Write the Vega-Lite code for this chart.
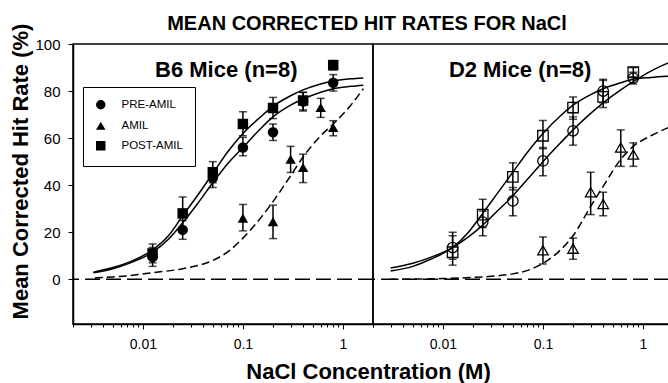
{
  "$schema": "https://vega.github.io/schema/vega-lite/v6.json",
  "padding": {"left": 8, "top": 13, "right": 0, "bottom": 0},
  "spacing": 0,
  "bounds": "flush",
  "config": {
    "font": "Liberation Sans",
    "view": {"stroke": "black", "strokeWidth": 1.5},
    "axis": {"grid": false, "domainColor": "black", "domainWidth": 1.5, "tickColor": "black", "tickWidth": 1, "labelColor": "black", "titleColor": "black", "labelFont": "Liberation Sans", "titleFont": "Liberation Sans"}
  },
  "resolve": {"scale": {"shape": "independent"}, "legend": {"shape": "independent"}},
  "datasets": {
    "points": [
      {"strain": "B6", "cond": "PRE-AMIL", "conc": 0.0125, "rate": 9.5, "lo": 5.5, "hi": 13.5},
      {"strain": "B6", "cond": "PRE-AMIL", "conc": 0.025, "rate": 21, "lo": 17, "hi": 25},
      {"strain": "B6", "cond": "PRE-AMIL", "conc": 0.05, "rate": 43, "lo": 39, "hi": 47},
      {"strain": "B6", "cond": "PRE-AMIL", "conc": 0.1, "rate": 56, "lo": 52.5, "hi": 60.3},
      {"strain": "B6", "cond": "PRE-AMIL", "conc": 0.2, "rate": 62.5, "lo": 59, "hi": 66},
      {"strain": "B6", "cond": "PRE-AMIL", "conc": 0.4, "rate": 75.5, "lo": 71.5, "hi": 79.5},
      {"strain": "B6", "cond": "PRE-AMIL", "conc": 0.8, "rate": 83.5, "lo": 80, "hi": 87},
      {"strain": "B6", "cond": "POST-AMIL", "conc": 0.0125, "rate": 11, "lo": 7, "hi": 15},
      {"strain": "B6", "cond": "POST-AMIL", "conc": 0.025, "rate": 28, "lo": 21, "hi": 35},
      {"strain": "B6", "cond": "POST-AMIL", "conc": 0.05, "rate": 45.5, "lo": 41, "hi": 50},
      {"strain": "B6", "cond": "POST-AMIL", "conc": 0.1, "rate": 66, "lo": 61, "hi": 71.2},
      {"strain": "B6", "cond": "POST-AMIL", "conc": 0.2, "rate": 72.8, "lo": 68.3, "hi": 77.3},
      {"strain": "B6", "cond": "POST-AMIL", "conc": 0.4, "rate": 76, "lo": 72, "hi": 79.4},
      {"strain": "B6", "cond": "POST-AMIL", "conc": 0.8, "rate": 91, "lo": 89, "hi": 93},
      {"strain": "B6", "cond": "AMIL", "conc": 0.1, "rate": 26, "lo": 20.6, "hi": 31.8},
      {"strain": "B6", "cond": "AMIL", "conc": 0.2, "rate": 24.5, "lo": 17.3, "hi": 31.5},
      {"strain": "B6", "cond": "AMIL", "conc": 0.3, "rate": 51, "lo": 45.4, "hi": 56.5},
      {"strain": "B6", "cond": "AMIL", "conc": 0.4, "rate": 47.5, "lo": 41.1, "hi": 53.2},
      {"strain": "B6", "cond": "AMIL", "conc": 0.6, "rate": 73, "lo": 68.8, "hi": 76.9},
      {"strain": "B6", "cond": "AMIL", "conc": 0.8, "rate": 64.5, "lo": 61, "hi": 67.4},
      {"strain": "D2", "cond": "PRE-AMIL", "conc": 0.0125, "rate": 13.5, "lo": 8.5, "hi": 18.5},
      {"strain": "D2", "cond": "PRE-AMIL", "conc": 0.025, "rate": 24.3, "lo": 18.5, "hi": 29},
      {"strain": "D2", "cond": "PRE-AMIL", "conc": 0.05, "rate": 33.3, "lo": 27, "hi": 39},
      {"strain": "D2", "cond": "PRE-AMIL", "conc": 0.1, "rate": 50.3, "lo": 44, "hi": 56},
      {"strain": "D2", "cond": "PRE-AMIL", "conc": 0.2, "rate": 63.1, "lo": 57, "hi": 69},
      {"strain": "D2", "cond": "PRE-AMIL", "conc": 0.4, "rate": 80, "lo": 75, "hi": 85},
      {"strain": "D2", "cond": "PRE-AMIL", "conc": 0.8, "rate": 85.5, "lo": 83, "hi": 88},
      {"strain": "D2", "cond": "POST-AMIL", "conc": 0.0125, "rate": 11.5, "lo": 6, "hi": 20},
      {"strain": "D2", "cond": "POST-AMIL", "conc": 0.025, "rate": 27.5, "lo": 22, "hi": 34},
      {"strain": "D2", "cond": "POST-AMIL", "conc": 0.05, "rate": 43.5, "lo": 38, "hi": 49.5},
      {"strain": "D2", "cond": "POST-AMIL", "conc": 0.1, "rate": 61, "lo": 55.5, "hi": 67.5},
      {"strain": "D2", "cond": "POST-AMIL", "conc": 0.2, "rate": 73, "lo": 68, "hi": 77.5},
      {"strain": "D2", "cond": "POST-AMIL", "conc": 0.4, "rate": 77.5, "lo": 73, "hi": 84.5},
      {"strain": "D2", "cond": "POST-AMIL", "conc": 0.8, "rate": 88, "lo": 86, "hi": 90},
      {"strain": "D2", "cond": "AMIL", "conc": 0.1, "rate": 12.3, "lo": 6.5, "hi": 18},
      {"strain": "D2", "cond": "AMIL", "conc": 0.2, "rate": 13, "lo": 8.5, "hi": 17.5},
      {"strain": "D2", "cond": "AMIL", "conc": 0.3, "rate": 37, "lo": 27.5, "hi": 45.5},
      {"strain": "D2", "cond": "AMIL", "conc": 0.4, "rate": 32, "lo": 27, "hi": 37},
      {"strain": "D2", "cond": "AMIL", "conc": 0.6, "rate": 56, "lo": 48, "hi": 63.5},
      {"strain": "D2", "cond": "AMIL", "conc": 0.8, "rate": 53, "lo": 48, "hi": 58}
    ],
    "curves": [
      {"strain": "B6", "cond": "POST-AMIL", "conc": 0.0032, "rate": 3},
      {"strain": "B6", "cond": "POST-AMIL", "conc": 0.005, "rate": 5},
      {"strain": "B6", "cond": "POST-AMIL", "conc": 0.0075, "rate": 7.5},
      {"strain": "B6", "cond": "POST-AMIL", "conc": 0.0125, "rate": 12.5},
      {"strain": "B6", "cond": "POST-AMIL", "conc": 0.018, "rate": 18.5},
      {"strain": "B6", "cond": "POST-AMIL", "conc": 0.025, "rate": 27},
      {"strain": "B6", "cond": "POST-AMIL", "conc": 0.035, "rate": 35.5},
      {"strain": "B6", "cond": "POST-AMIL", "conc": 0.05, "rate": 45},
      {"strain": "B6", "cond": "POST-AMIL", "conc": 0.07, "rate": 54},
      {"strain": "B6", "cond": "POST-AMIL", "conc": 0.1, "rate": 62},
      {"strain": "B6", "cond": "POST-AMIL", "conc": 0.15, "rate": 69},
      {"strain": "B6", "cond": "POST-AMIL", "conc": 0.2, "rate": 73.5},
      {"strain": "B6", "cond": "POST-AMIL", "conc": 0.3, "rate": 78},
      {"strain": "B6", "cond": "POST-AMIL", "conc": 0.4, "rate": 80.5},
      {"strain": "B6", "cond": "POST-AMIL", "conc": 0.6, "rate": 83},
      {"strain": "B6", "cond": "POST-AMIL", "conc": 0.8, "rate": 84.3},
      {"strain": "B6", "cond": "POST-AMIL", "conc": 1.2, "rate": 85.2},
      {"strain": "B6", "cond": "POST-AMIL", "conc": 1.6, "rate": 85.6},
      {"strain": "B6", "cond": "PRE-AMIL", "conc": 0.0032, "rate": 2.8},
      {"strain": "B6", "cond": "PRE-AMIL", "conc": 0.005, "rate": 4.5},
      {"strain": "B6", "cond": "PRE-AMIL", "conc": 0.0075, "rate": 7},
      {"strain": "B6", "cond": "PRE-AMIL", "conc": 0.0125, "rate": 11.5},
      {"strain": "B6", "cond": "PRE-AMIL", "conc": 0.018, "rate": 17},
      {"strain": "B6", "cond": "PRE-AMIL", "conc": 0.025, "rate": 24},
      {"strain": "B6", "cond": "PRE-AMIL", "conc": 0.035, "rate": 32},
      {"strain": "B6", "cond": "PRE-AMIL", "conc": 0.05, "rate": 41},
      {"strain": "B6", "cond": "PRE-AMIL", "conc": 0.07, "rate": 49},
      {"strain": "B6", "cond": "PRE-AMIL", "conc": 0.1, "rate": 56},
      {"strain": "B6", "cond": "PRE-AMIL", "conc": 0.15, "rate": 64},
      {"strain": "B6", "cond": "PRE-AMIL", "conc": 0.2, "rate": 69},
      {"strain": "B6", "cond": "PRE-AMIL", "conc": 0.3, "rate": 74},
      {"strain": "B6", "cond": "PRE-AMIL", "conc": 0.4, "rate": 76.6},
      {"strain": "B6", "cond": "PRE-AMIL", "conc": 0.6, "rate": 79.5},
      {"strain": "B6", "cond": "PRE-AMIL", "conc": 0.8, "rate": 81},
      {"strain": "B6", "cond": "PRE-AMIL", "conc": 1.2, "rate": 82},
      {"strain": "B6", "cond": "PRE-AMIL", "conc": 1.6, "rate": 82.5},
      {"strain": "B6", "cond": "AMIL", "conc": 0.0033, "rate": 0.6},
      {"strain": "B6", "cond": "AMIL", "conc": 0.005, "rate": 1},
      {"strain": "B6", "cond": "AMIL", "conc": 0.0075, "rate": 1.6},
      {"strain": "B6", "cond": "AMIL", "conc": 0.0125, "rate": 2.8},
      {"strain": "B6", "cond": "AMIL", "conc": 0.025, "rate": 4.5},
      {"strain": "B6", "cond": "AMIL", "conc": 0.05, "rate": 8},
      {"strain": "B6", "cond": "AMIL", "conc": 0.075, "rate": 12.5},
      {"strain": "B6", "cond": "AMIL", "conc": 0.1, "rate": 17.5},
      {"strain": "B6", "cond": "AMIL", "conc": 0.15, "rate": 26},
      {"strain": "B6", "cond": "AMIL", "conc": 0.2, "rate": 33},
      {"strain": "B6", "cond": "AMIL", "conc": 0.3, "rate": 44},
      {"strain": "B6", "cond": "AMIL", "conc": 0.4, "rate": 52},
      {"strain": "B6", "cond": "AMIL", "conc": 0.6, "rate": 61},
      {"strain": "B6", "cond": "AMIL", "conc": 0.8, "rate": 66},
      {"strain": "B6", "cond": "AMIL", "conc": 1.2, "rate": 74},
      {"strain": "B6", "cond": "AMIL", "conc": 1.6, "rate": 81},
      {"strain": "D2", "cond": "POST-AMIL", "conc": 0.003, "rate": 3.5},
      {"strain": "D2", "cond": "POST-AMIL", "conc": 0.005, "rate": 5.5},
      {"strain": "D2", "cond": "POST-AMIL", "conc": 0.0075, "rate": 8.5},
      {"strain": "D2", "cond": "POST-AMIL", "conc": 0.0125, "rate": 13.5},
      {"strain": "D2", "cond": "POST-AMIL", "conc": 0.018, "rate": 20},
      {"strain": "D2", "cond": "POST-AMIL", "conc": 0.025, "rate": 28},
      {"strain": "D2", "cond": "POST-AMIL", "conc": 0.035, "rate": 36.5},
      {"strain": "D2", "cond": "POST-AMIL", "conc": 0.05, "rate": 45.5},
      {"strain": "D2", "cond": "POST-AMIL", "conc": 0.07, "rate": 54},
      {"strain": "D2", "cond": "POST-AMIL", "conc": 0.1, "rate": 62},
      {"strain": "D2", "cond": "POST-AMIL", "conc": 0.15, "rate": 69.5},
      {"strain": "D2", "cond": "POST-AMIL", "conc": 0.2, "rate": 74},
      {"strain": "D2", "cond": "POST-AMIL", "conc": 0.3, "rate": 78.5},
      {"strain": "D2", "cond": "POST-AMIL", "conc": 0.4, "rate": 81},
      {"strain": "D2", "cond": "POST-AMIL", "conc": 0.6, "rate": 83.5},
      {"strain": "D2", "cond": "POST-AMIL", "conc": 0.8, "rate": 85},
      {"strain": "D2", "cond": "POST-AMIL", "conc": 1.2, "rate": 85.8},
      {"strain": "D2", "cond": "POST-AMIL", "conc": 1.8, "rate": 86.3},
      {"strain": "D2", "cond": "PRE-AMIL", "conc": 0.003, "rate": 4.8},
      {"strain": "D2", "cond": "PRE-AMIL", "conc": 0.005, "rate": 6.8},
      {"strain": "D2", "cond": "PRE-AMIL", "conc": 0.0075, "rate": 9.3},
      {"strain": "D2", "cond": "PRE-AMIL", "conc": 0.0125, "rate": 13.5},
      {"strain": "D2", "cond": "PRE-AMIL", "conc": 0.018, "rate": 18},
      {"strain": "D2", "cond": "PRE-AMIL", "conc": 0.025, "rate": 23},
      {"strain": "D2", "cond": "PRE-AMIL", "conc": 0.035, "rate": 29},
      {"strain": "D2", "cond": "PRE-AMIL", "conc": 0.05, "rate": 35.5},
      {"strain": "D2", "cond": "PRE-AMIL", "conc": 0.07, "rate": 42.5},
      {"strain": "D2", "cond": "PRE-AMIL", "conc": 0.1, "rate": 50},
      {"strain": "D2", "cond": "PRE-AMIL", "conc": 0.15, "rate": 58},
      {"strain": "D2", "cond": "PRE-AMIL", "conc": 0.2, "rate": 63.5},
      {"strain": "D2", "cond": "PRE-AMIL", "conc": 0.3, "rate": 70.5},
      {"strain": "D2", "cond": "PRE-AMIL", "conc": 0.4, "rate": 75},
      {"strain": "D2", "cond": "PRE-AMIL", "conc": 0.6, "rate": 80.5},
      {"strain": "D2", "cond": "PRE-AMIL", "conc": 0.8, "rate": 84},
      {"strain": "D2", "cond": "PRE-AMIL", "conc": 1.2, "rate": 88.5},
      {"strain": "D2", "cond": "PRE-AMIL", "conc": 1.8, "rate": 92},
      {"strain": "D2", "cond": "AMIL", "conc": 0.003, "rate": 0},
      {"strain": "D2", "cond": "AMIL", "conc": 0.01, "rate": 0.3},
      {"strain": "D2", "cond": "AMIL", "conc": 0.02, "rate": 0.8},
      {"strain": "D2", "cond": "AMIL", "conc": 0.035, "rate": 1.5},
      {"strain": "D2", "cond": "AMIL", "conc": 0.05, "rate": 2.3},
      {"strain": "D2", "cond": "AMIL", "conc": 0.075, "rate": 4.2},
      {"strain": "D2", "cond": "AMIL", "conc": 0.1, "rate": 6.8},
      {"strain": "D2", "cond": "AMIL", "conc": 0.15, "rate": 12.5},
      {"strain": "D2", "cond": "AMIL", "conc": 0.2, "rate": 18.5},
      {"strain": "D2", "cond": "AMIL", "conc": 0.3, "rate": 31},
      {"strain": "D2", "cond": "AMIL", "conc": 0.4, "rate": 39.5},
      {"strain": "D2", "cond": "AMIL", "conc": 0.6, "rate": 51},
      {"strain": "D2", "cond": "AMIL", "conc": 0.8, "rate": 56.5},
      {"strain": "D2", "cond": "AMIL", "conc": 1.2, "rate": 61},
      {"strain": "D2", "cond": "AMIL", "conc": 1.8, "rate": 64.5}
    ],
    "labels": [
      {"strain": "B6", "conc": 0.0682, "rate": 89, "label": "B6 Mice (n=8)"},
      {"strain": "D2", "conc": 0.0591, "rate": 89, "label": "D2 Mice (n=8)"}
    ]
  },
  "hconcat": [
    {
      "width": 300,
      "height": 280,
      "title": {"text": "MEAN CORRECTED HIT RATES FOR NaCl", "anchor": "middle", "dx": 144, "fontSize": 20, "font": "Liberation Sans", "fontWeight": "bold", "color": "black", "offset": -11},
      "layer": [
        {
          "data": {"values": [{}]},
          "mark": {"type": "rule", "strokeDash": [15, 6], "strokeWidth": 1.5, "color": "black"},
          "encoding": {"y": {"datum": 0, "type": "quantitative", "title": "Mean Corrected Hit Rate (%)", "scale": {"domain": [-19, 100]}}}
        },
        {
          "data": {"name": "curves"},
          "transform": [{"filter": "datum.strain == 'B6' && datum.cond != 'AMIL'"}],
          "mark": {"type": "line", "interpolate": "monotone", "color": "black", "strokeWidth": 1.5},
          "encoding": {
            "x": {"field": "conc", "type": "quantitative", "title": "NaCl Concentration (M)", "scale": {"type": "log", "domain": [0.002, 2]}},
            "y": {"field": "rate", "type": "quantitative", "title": "Mean Corrected Hit Rate (%)", "scale": {"domain": [-19, 100]}},
            "detail": {"field": "cond"}
          }
        },
        {
          "data": {"name": "curves"},
          "transform": [{"filter": "datum.strain == 'B6' && datum.cond == 'AMIL'"}],
          "mark": {"type": "line", "interpolate": "monotone", "color": "black", "strokeWidth": 1.5, "strokeDash": [8, 4]},
          "encoding": {
            "x": {"field": "conc", "type": "quantitative", "title": "NaCl Concentration (M)", "scale": {"type": "log", "domain": [0.002, 2]}},
            "y": {"field": "rate", "type": "quantitative", "title": "Mean Corrected Hit Rate (%)", "scale": {"domain": [-19, 100]}}
          }
        },
        {
          "data": {"name": "points"},
          "transform": [{"filter": "datum.strain == 'B6'"}],
          "mark": {"type": "errorbar", "ticks": {"size": 8, "thickness": 1.5, "color": "black"}, "rule": {"strokeWidth": 1.5, "color": "black"}},
          "encoding": {
            "x": {"field": "conc", "type": "quantitative", "title": "NaCl Concentration (M)", "scale": {"type": "log", "domain": [0.002, 2]}},
            "y": {"field": "lo", "type": "quantitative", "title": "Mean Corrected Hit Rate (%)", "scale": {"domain": [-19, 100]}},
            "y2": {"field": "hi", "title": "Mean Corrected Hit Rate (%)"}
          }
        },
        {
          "data": {"name": "points"},
          "transform": [{"filter": "datum.strain == 'B6'"}],
          "mark": {"type": "point", "filled": true, "color": "black", "size": 110, "opacity": 1},
          "encoding": {
            "x": {"field": "conc", "type": "quantitative", "title": "NaCl Concentration (M)", "scale": {"type": "log", "domain": [0.002, 2]},
              "axis": {"titleFontSize": 22, "titleFontWeight": "bold", "titleX": 295, "titleY": 54, "titleAlign": "center", "titleBaseline": "alphabetic",
                "values": [0.002, 0.003, 0.004, 0.005, 0.006, 0.007, 0.008, 0.009, 0.01, 0.02, 0.03, 0.04, 0.05, 0.06, 0.07, 0.08, 0.09, 0.1, 0.2, 0.3, 0.4, 0.5, 0.6, 0.7, 0.8, 0.9, 1, 2],
                "labelExpr": "datum.value == 0.01 ? '0.01' : datum.value == 0.1 ? '0.1' : datum.value == 1 ? '1' : ''",
                "labelFontSize": 14, "labelPadding": 8, "labelFlush": false, "labelOverlap": false,
                "tickSize": {"condition": {"test": "datum.value == 0.01 || datum.value == 0.1 || datum.value == 1", "value": 5}, "value": 3}}},
            "y": {"field": "rate", "type": "quantitative", "title": "Mean Corrected Hit Rate (%)", "scale": {"domain": [-19, 100]},
              "axis": {"titleFontSize": 22, "titleFontWeight": "bold", "titleX": -53, "titleY": 127, "titleAngle": -90, "titleAlign": "center", "titleBaseline": "middle",
                "values": [0, 20, 40, 60, 80, 100], "labelFontSize": 15, "labelPadding": 8, "tickSize": 5}},
            "shape": {"field": "cond", "type": "nominal",
              "scale": {"domain": ["PRE-AMIL", "AMIL", "POST-AMIL"], "range": ["circle", "triangle-up", "square"]},
              "legend": {"orient": "none", "legendX": 10, "legendY": 43, "title": null, "strokeColor": "black", "fillColor": "white", "padding": 12,
                "labelFont": "Liberation Sans", "labelFontSize": 11.5, "labelColor": "black", "symbolFillColor": "black", "symbolStrokeColor": "black", "symbolSize": 90, "rowPadding": 5, "labelOffset": 15}}
          }
        },
        {
          "data": {"name": "labels"},
          "transform": [{"filter": "datum.strain == 'B6'"}],
          "mark": {"type": "text", "fontSize": 22, "fontWeight": "bold", "color": "black", "align": "center", "baseline": "middle"},
          "encoding": {
            "x": {"field": "conc", "type": "quantitative", "title": "NaCl Concentration (M)", "scale": {"type": "log", "domain": [0.002, 2]}},
            "y": {"field": "rate", "type": "quantitative", "title": "Mean Corrected Hit Rate (%)", "scale": {"domain": [-19, 100]}},
            "text": {"field": "label"}
          }
        }
      ]
    },
    {
      "width": 296,
      "height": 280,
      "layer": [
        {
          "data": {"values": [{}]},
          "mark": {"type": "rule", "strokeDash": [15, 6], "strokeWidth": 1.5, "color": "black"},
          "encoding": {"y": {"datum": 0, "type": "quantitative", "scale": {"domain": [-19, 100]}, "axis": null}}
        },
        {
          "data": {"name": "curves"},
          "transform": [{"filter": "datum.strain == 'D2' && datum.cond != 'AMIL'"}],
          "mark": {"type": "line", "interpolate": "monotone", "color": "black", "strokeWidth": 1.5},
          "encoding": {
            "x": {"field": "conc", "type": "quantitative", "title": null, "scale": {"type": "log", "domain": [0.002, 1.82]}},
            "y": {"field": "rate", "type": "quantitative", "scale": {"domain": [-19, 100]}, "axis": null},
            "detail": {"field": "cond"}
          }
        },
        {
          "data": {"name": "curves"},
          "transform": [{"filter": "datum.strain == 'D2' && datum.cond == 'AMIL'"}],
          "mark": {"type": "line", "interpolate": "monotone", "color": "black", "strokeWidth": 1.5, "strokeDash": [8, 4]},
          "encoding": {
            "x": {"field": "conc", "type": "quantitative", "title": null, "scale": {"type": "log", "domain": [0.002, 1.82]}},
            "y": {"field": "rate", "type": "quantitative", "scale": {"domain": [-19, 100]}, "axis": null}
          }
        },
        {
          "data": {"name": "points"},
          "transform": [{"filter": "datum.strain == 'D2'"}],
          "mark": {"type": "errorbar", "ticks": {"size": 8, "thickness": 1.5, "color": "black"}, "rule": {"strokeWidth": 1.5, "color": "black"}},
          "encoding": {
            "x": {"field": "conc", "type": "quantitative", "title": null, "scale": {"type": "log", "domain": [0.002, 1.82]}},
            "y": {"field": "lo", "type": "quantitative", "scale": {"domain": [-19, 100]}, "axis": null},
            "y2": {"field": "hi"}
          }
        },
        {
          "data": {"name": "points"},
          "transform": [{"filter": "datum.strain == 'D2'"}],
          "mark": {"type": "point", "filled": false, "color": "black", "strokeWidth": 1.3, "size": 110, "opacity": 1},
          "encoding": {
            "x": {"field": "conc", "type": "quantitative", "title": null, "scale": {"type": "log", "domain": [0.002, 1.82]},
              "axis": {
                "values": [0.002, 0.003, 0.004, 0.005, 0.006, 0.007, 0.008, 0.009, 0.01, 0.02, 0.03, 0.04, 0.05, 0.06, 0.07, 0.08, 0.09, 0.1, 0.2, 0.3, 0.4, 0.5, 0.6, 0.7, 0.8, 0.9, 1],
                "labelExpr": "datum.value == 0.01 ? '0.01' : datum.value == 0.1 ? '0.1' : datum.value == 1 ? '1' : ''",
                "labelFontSize": 14, "labelPadding": 8, "labelFlush": false, "labelOverlap": false,
                "tickSize": {"condition": {"test": "datum.value == 0.01 || datum.value == 0.1 || datum.value == 1", "value": 5}, "value": 3}}},
            "y": {"field": "rate", "type": "quantitative", "scale": {"domain": [-19, 100]}, "axis": null},
            "shape": {"field": "cond", "type": "nominal",
              "scale": {"domain": ["PRE-AMIL", "AMIL", "POST-AMIL"], "range": ["circle", "triangle-up", "square"]},
              "legend": null}
          }
        },
        {
          "data": {"name": "labels"},
          "transform": [{"filter": "datum.strain == 'D2'"}],
          "mark": {"type": "text", "fontSize": 22, "fontWeight": "bold", "color": "black", "align": "center", "baseline": "middle"},
          "encoding": {
            "x": {"field": "conc", "type": "quantitative", "title": null, "scale": {"type": "log", "domain": [0.002, 1.82]}},
            "y": {"field": "rate", "type": "quantitative", "scale": {"domain": [-19, 100]}, "axis": null},
            "text": {"field": "label"}
          }
        }
      ]
    }
  ]
}
